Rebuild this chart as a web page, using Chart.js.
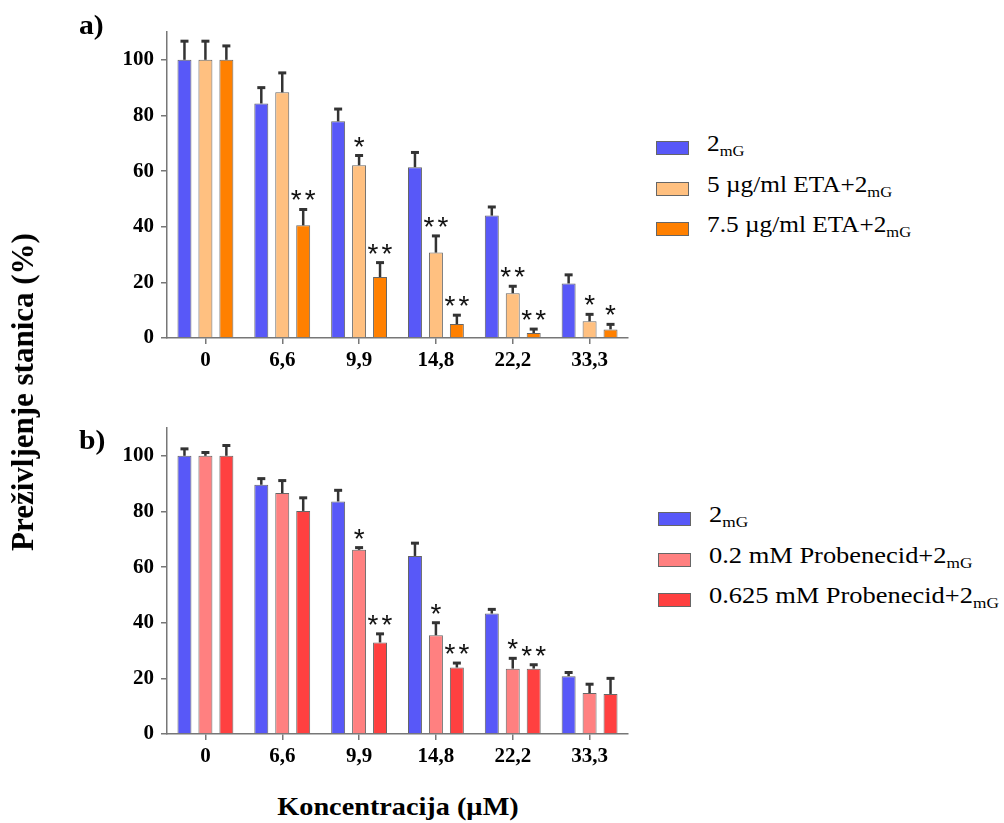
<!DOCTYPE html>
<html>
<head>
<meta charset="utf-8">
<script src="https://cdn.jsdelivr.net/npm/chart.js@4/dist/chart.umd.min.js"></script>
<style>
  body { margin: 0; background: #fff; }
  #wrap { position: relative; width: 1004px; height: 823px; font-family: 'Liberation Serif', serif; }
  .cv { position: absolute; left: 0; }
  .panel { position: absolute; font-weight: bold; font-size: 27px; transform: scaleX(1.1); transform-origin: left top; }
  .legend { position: absolute; font-size: 23px; }
  .legend .row { position: relative; height: 40.5px; }
  .legend .box { position: absolute; left: 0; width: 33px; height: 14px; border: 1px solid #666; box-sizing: border-box; }
  .legend .txt { position: absolute; left: 51px; white-space: nowrap; transform: scaleX(1.1); transform-origin: left top; }
  #legendB .txt { transform: scaleX(1.15); }
  .legend sub { font-size: 15px; vertical-align: -5px; }
  #ytitle { position: absolute; left: 23px; top: 392px; transform: translate(-50%, -50%) rotate(-90deg); font-weight: bold; font-size: 31px; white-space: nowrap; }
  #xtitle { position: absolute; left: 398px; top: 807px; transform: translate(-50%, -50%) scaleX(1.13); font-weight: bold; font-size: 25px; white-space: nowrap; }
</style>
</head>
<body>
<div id="wrap">
  <canvas id="chartA" class="cv" width="640" height="375" style="top:0px"></canvas>
  <canvas id="chartB" class="cv" width="640" height="375" style="top:396px"></canvas>
  <div class="panel" style="left:79px; top:10px">a)</div>
  <div class="panel" style="left:79px; top:425px">b)</div>
  <div id="legendA" class="legend" style="left:656px; top:127px"></div>
  <div id="legendB" class="legend" style="left:658px; top:498px"></div>
  <div id="ytitle">Preživljenje stanica (%)</div>
  <div id="xtitle">Koncentracija (µM)</div>
</div>
<script>
var categories = ['0', '6,6', '9,9', '14,8', '22,2', '33,3'];
var yTicks = [0, 20, 40, 60, 80, 100];
var subLabel = 'mG';

// panel a
var namesA = ['2', '5 µg/ml ETA+2', '7.5 µg/ml ETA+2'];
var colorsA = ['#5858F8', '#FFC080', '#FF8000'];
var controlA = [100, 84.3, 77.9, 61.4, 44.0, 19.6];
var controlAErr = [6.7, 5.7, 4.4, 5.3, 3.1, 3.1];
var eta5 = [100, 88.3, 62.1, 30.7, 16.1, 6.0];
var eta5Err = [6.7, 7.0, 3.5, 6.0, 2.5, 2.5];
var eta75 = [100, 40.5, 21.9, 5.0, 1.8, 3.1];
var eta75Err = [5.0, 5.7, 5.2, 3.2, 1.4, 1.8];
var starsA = [['', '', '', '', '', ''], ['', '', '*', '**', '**', '*'], ['', '**', '**', '**', '**', '*']];

// panel b
var namesB = ['2', '0.2 mM Probenecid+2', '0.625 mM Probenecid+2'];
var colorsB = ['#5858F8', '#FF8080', '#FF4040'];
var controlB = [100, 89.6, 83.6, 64.0, 43.3, 20.8];
var controlBErr = [2.5, 2.2, 4.0, 4.6, 1.5, 1.3];
var prob02 = [100, 86.6, 66.2, 35.5, 23.5, 14.7];
var prob02Err = [1.2, 4.5, 0.8, 4.5, 3.7, 3.2];
var prob0625 = [100, 80.2, 32.9, 23.9, 23.5, 14.4];
var prob0625Err = [3.7, 4.7, 3.1, 1.6, 1.4, 5.6];
var starsB = [['', '', '', '', '', ''], ['', '', '*', '*', '*', ''], ['', '', '**', '**', '**', '']];

var errorBars = {
    id: 'errorBars',
    afterDatasetsDraw: function (chart) {
        var ctx = chart.ctx;
        var yScale = chart.scales.y;
        chart.data.datasets.forEach(function (ds, di) {
            var meta = chart.getDatasetMeta(di);
            meta.data.forEach(function (bar, i) {
                var top = yScale.getPixelForValue(ds.data[i] + ds.err[i]);
                ctx.save();
                ctx.strokeStyle = '#333';
                ctx.lineWidth = 2.5;
                ctx.beginPath();
                ctx.moveTo(bar.x, bar.y);
                ctx.lineTo(bar.x, top);
                ctx.stroke();
                ctx.lineWidth = 3;
                ctx.beginPath();
                ctx.moveTo(bar.x - 4, top);
                ctx.lineTo(bar.x + 4, top);
                ctx.stroke();
                // significance stars
                var s = ds.stars[i];
                if (s) {
                    ctx.fillStyle = '#111';
                    ctx.font = '28px "Liberation Sans"';
                    ctx.textBaseline = 'alphabetic';
                    ctx.textAlign = 'center';
                    var m = ctx.measureText('*');
                    var mid = top - 14;
                    var base = mid + (m.actualBoundingBoxAscent - m.actualBoundingBoxDescent) / 2;
                    if (s.length == 1) {
                        ctx.fillText('*', bar.x, base);
                    } else {
                        ctx.fillText('*', bar.x - 7, base);
                        ctx.fillText('*', bar.x + 7, base);
                    }
                }
                ctx.restore();
            });
        });
    }
};

function makeDatasets(names, colors, values, errs, stars) {
    var sets = [];
    for (var i in names) {
        sets.push({
            label: names[i] + subLabel,
            data: values[i],
            err: errs[i],
            stars: stars[i],
            backgroundColor: colors[i],
            borderColor: '#666',
            borderWidth: 1,
            categoryPercentage: 0.818,
            barPercentage: 0.667
        });
    }
    return sets;
}

function renderChart(id, datasets) {
    var ctx = document.getElementById(id).getContext('2d');
    return new Chart(ctx, {
        type: 'bar',
        data: { labels: categories, datasets: datasets },
        options: {
            responsive: false,
            animation: false,
            layout: { padding: { top: 32, right: 12, left: 0, bottom: 0 } },
            plugins: { legend: { display: false }, tooltip: { enabled: false } },
            scales: {
                x: {
                    afterFit: function (scale) { scale.height = 37; },
                    grid: { offset: false, drawOnChartArea: false, tickLength: 6, color: '#777', lineWidth: 1.5 },
                    border: { color: '#777', width: 1.5 },
                    ticks: { color: '#000', padding: 4, font: { family: 'Liberation Serif', weight: 'bold', size: 21 } }
                },
                y: {
                    min: 0,
                    max: 110,
                    afterFit: function (scale) { scale.width = 167; },
                    afterBuildTicks: function (scale) {
                        scale.ticks = yTicks.map(function (v) { return { value: v }; });
                    },
                    grid: { drawOnChartArea: false, tickLength: 6, color: '#777', lineWidth: 1.5 },
                    border: { color: '#777', width: 1.5 },
                    ticks: { color: '#000', padding: 7, font: { family: 'Liberation Serif', weight: 'bold', size: 21 } }
                }
            }
        },
        plugins: [errorBars]
    });
}

function renderLegend(id, names, colors) {
    var el = document.getElementById(id);
    for (var i in names) {
        var row = document.createElement('div');
        row.className = 'row';
        row.innerHTML = '<div class="box" style="top:14px; background:' + colors[i] + '"></div>' +
            '<div class="txt" style="top:4px">' + names[i] + '<sub>' + subLabel + '</sub></div>';
        el.appendChild(row);
    }
}

renderChart('chartA', makeDatasets(namesA, colorsA, [controlA, eta5, eta75], [controlAErr, eta5Err, eta75Err], starsA));
renderChart('chartB', makeDatasets(namesB, colorsB, [controlB, prob02, prob0625], [controlBErr, prob02Err, prob0625Err], starsB));
renderLegend('legendA', namesA, colorsA);
renderLegend('legendB', namesB, colorsB);
</script>
</body>
</html>
